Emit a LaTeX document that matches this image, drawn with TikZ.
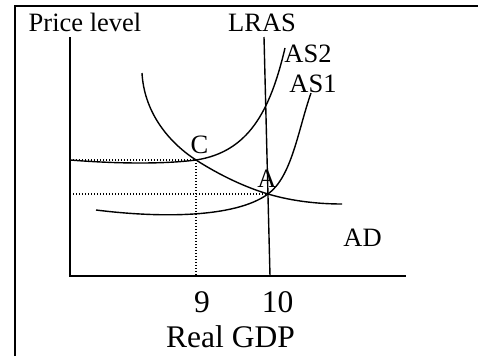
\documentclass[tikz,border=0pt]{standalone}
\usepackage{fontspec}
\setmainfont{Liberation Serif}
\usetikzlibrary{positioning}

\begin{document}
\begin{tikzpicture}[x=1pt, y=-1pt, lbl/.style={inner sep=0pt, font=\fontsize{26.5}{31}\selectfont}, axlbl/.style={inner sep=0pt, font=\fontsize{31.5}{37}\selectfont}, curve/.style={line width=1.4pt}, guide/.style={line width=1.2pt, dash pattern=on 1.2pt off 1.8pt}]
    \useasboundingbox (0,0) rectangle (478,356);
    % frame
    \draw[line width=2pt] (15,356) -- (15,6) -- (478,6);
    % points
    \coordinate (O) at (70,276);
    \coordinate (ytop) at (70,37);
    \coordinate (xend) at (406,276);
    \coordinate (lrastop) at (264,37);
    \coordinate (lrasbot) at (270,276);
    \coordinate (C) at (196,160);
    \coordinate (A) at (268,194);
    \coordinate (as2top) at (285,48);
    \coordinate (as1low) at (96,210);
    \coordinate (as1top) at (311,93);
    \coordinate (adtop) at (142,73);
    \coordinate (adend) at (342,204);
    % axes and guides
    \draw[curve] (ytop) -- (O) -- (xend);
    \draw[guide] (O |- C) -- (C) -- (C |- O);
    \draw[guide] (O |- A) -- (A);
    % curves
    \draw[curve] (lrastop) -- (lrasbot);
    \draw[curve] (O |- C) .. controls (120,164) and (165,164) .. (C) .. controls (248,152) and (270,112) .. (as2top);
    \draw[curve] (as1low) .. controls (160,218) and (235,218) .. (A) .. controls (292,176.5) and (298,130) .. (as1top);
    \draw[curve] (adtop) .. controls (144,110) and (166,140.5) .. (C) .. controls (221,176) and (246,187.4) .. (A) .. controls (293,201.5) and (320,204) .. (adend);
    % labels
    \node[lbl] (plevel) at (85,22.5) {Price level};
    \node[lbl] (lras) at (262,22.5) {LRAS};
    \node[lbl] (as2) at (308,53.5) {AS2};
    \node[lbl] (as1) at (313,84) {AS1};
    \node[lbl] (clbl) at (199.5,145) {C};
    \node[lbl] (albl) at (267,179) {A};
    \node[lbl] (ad) at (362.5,237.5) {AD};
    \node[axlbl] (nine) at (202,302) {9};
    \node[axlbl] (ten) at (277.5,302) {10};
    \node[axlbl] (rgdp) at (230.5,337) {Real GDP};
\end{tikzpicture}
\end{document}
